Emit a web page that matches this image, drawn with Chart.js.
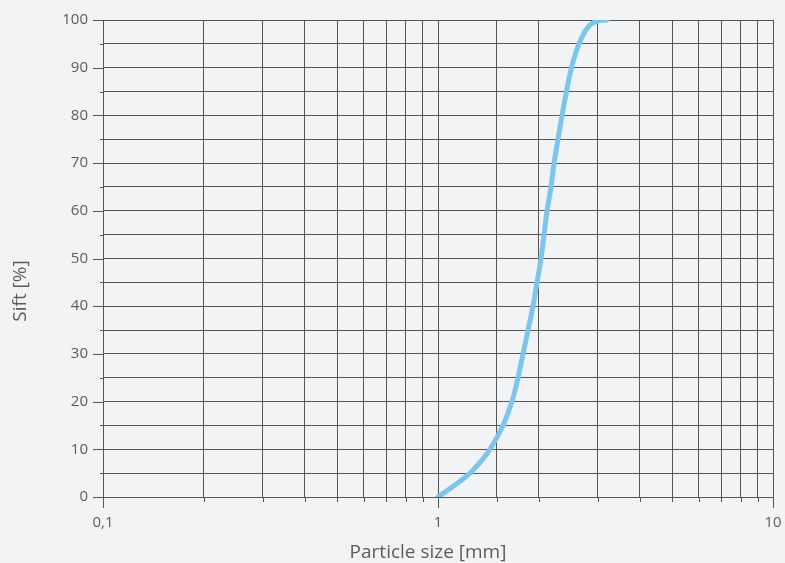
<!DOCTYPE html>
<html>
<head>
<meta charset="utf-8">
<script src="https://cdn.jsdelivr.net/npm/chart.js@4"></script>
<style>
  html, body { margin: 0; padding: 0; background: #f2f3f5; }
  #wrap { width: 785px; height: 563px; }
</style>
</head>
<body>
<div id="wrap"><canvas id="siftChart"></canvas></div>
<script>
// particle size (mm) vs cumulative sift (%)
const sizes = [1.0, 1.124, 1.246, 1.344, 1.43, 1.563, 1.663, 1.733, 1.794, 1.857, 1.921, 1.975, 2.03, 2.073, 2.116, 2.175, 2.22, 2.282, 2.345, 2.419, 2.503, 2.636, 2.804, 2.983, 3.195];
const sift  = [0,   2.5,   5,     7.5,   10,   15,    20,    25,    30,    35,    40,    45,    50,   55,    60,    65,    70,   75,    80,    85,    90,    95,    98.5,  99.8,  100];
const xLabels = { 0.1: '0,1', 1: '1', 10: '10' };
const yStep = 5;
const xTitle = 'Particle size [mm]';
const yTitle = 'Sift [%]';

const gridColor = '#555555';
const textColor = '#5c5c5c';
const fontFamily = 'Open Sans';

// ticks outside the plot (long for labelled values) and the two axis titles,
// which sit a little off-centre in the original
const axisExtras = {
  id: 'axisExtras',
  afterDraw(chart) {
    const { ctx, chartArea, scales } = chart;
    ctx.save();
    ctx.strokeStyle = gridColor;
    ctx.lineWidth = 1;
    ctx.beginPath();
    scales.y.ticks.forEach(t => {
      const py = Math.round(scales.y.getPixelForValue(t.value)) + 0.5;
      const len = t.value % 10 === 0 ? 10 : 3;
      ctx.moveTo(chartArea.left - len, py);
      ctx.lineTo(chartArea.left, py);
    });
    scales.x.ticks.forEach(t => {
      const px = Math.round(scales.x.getPixelForValue(t.value)) + 0.5;
      const len = xLabels[t.value] ? 11 : 5;
      ctx.moveTo(px, chartArea.bottom);
      ctx.lineTo(px, chartArea.bottom + len);
    });
    ctx.stroke();

    ctx.fillStyle = textColor;
    ctx.font = '19px "' + fontFamily + '"';
    ctx.textAlign = 'center';
    ctx.textBaseline = 'alphabetic';
    ctx.fillText(xTitle, chartArea.left + 325, chart.height - 5);
    ctx.translate(26, chartArea.bottom - 206);
    ctx.rotate(-Math.PI / 2);
    ctx.fillText(yTitle, 0, 0);
    ctx.restore();
  }
};

new Chart(document.getElementById('siftChart'), {
  type: 'line',
  data: {
    datasets: [{
      label: 'Sift',
      data: sizes.map((s, i) => ({ x: s, y: sift[i] })),
      borderColor: '#7cc5ec',
      borderWidth: 5,
      pointRadius: 0,
      tension: 0.4,
      borderCapStyle: 'round',
      fill: false
    }]
  },
  options: {
    responsive: true,
    maintainAspectRatio: false,
    animation: false,
    layout: { padding: { top: 20, right: 0, left: 0, bottom: 0 } },
    plugins: { legend: { display: false }, tooltip: { enabled: false } },
    scales: {
      x: {
        type: 'logarithmic',
        min: 0.1,
        max: 10,
        afterFit: s => { s.height = 66; s.paddingLeft = 0; s.paddingRight = 12; },
        grid: { color: gridColor, drawTicks: false },
        border: { color: gridColor },
        ticks: {
          autoSkip: false,
          maxRotation: 0,
          padding: 17,
          color: textColor,
          font: { family: fontFamily, size: 15 },
          callback: v => xLabels[v] || ''
        }
      },
      y: {
        min: 0,
        max: 100,
        afterFit: s => { s.width = 103; s.paddingTop = 0; s.paddingBottom = 0; },
        grid: { color: gridColor, drawTicks: false },
        border: { color: gridColor },
        ticks: {
          stepSize: yStep,
          padding: 15,
          color: textColor,
          font: { family: fontFamily, size: 15 },
          callback: v => (v % 10 === 0 ? v : '')
        }
      }
    }
  },
  plugins: [axisExtras]
});
</script>
</body>
</html>
